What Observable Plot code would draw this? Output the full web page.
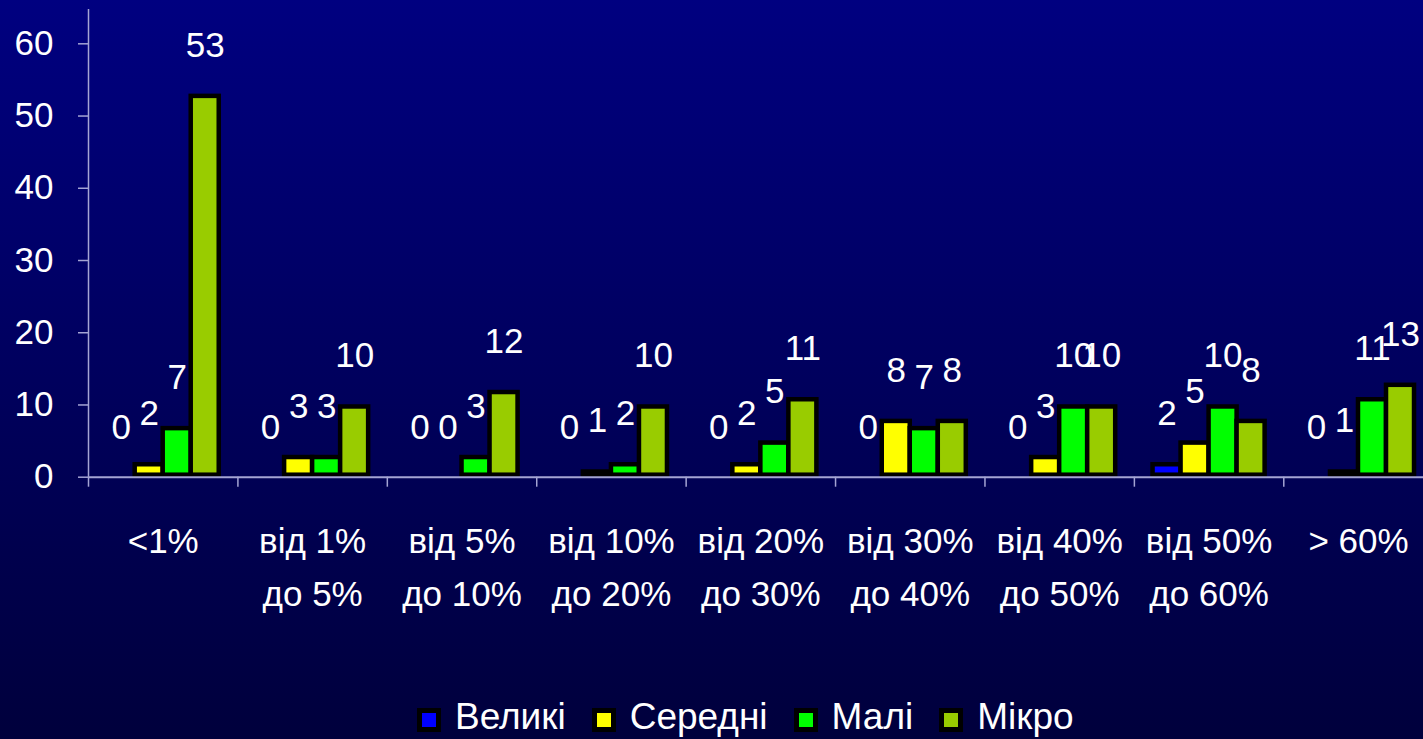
<!DOCTYPE html>
<html><head><meta charset="utf-8">
<script src="https://cdn.jsdelivr.net/npm/d3@7"></script>
<script src="https://cdn.jsdelivr.net/npm/@observablehq/plot@0.6"></script>
<style>
html,body{margin:0;padding:0;width:1423px;height:739px;overflow:hidden;}
body{background:linear-gradient(#000080,#00003c);font-family:"Liberation Sans",Arial,sans-serif;position:relative;}
#legend{position:absolute;left:417px;top:695px;height:44px;display:flex;align-items:center;color:#fff;font-size:37px;line-height:44px;}
.item{display:flex;align-items:center;margin-right:26px;}
.sw{width:14px;height:14px;border:5px solid #000;margin-right:14px;position:relative;top:3px;}
</style></head>
<body><div id="chart"></div><div id="legend"></div>
<script>
const categories = ["<1%", "від 1%\nдо 5%", "від 5%\nдо 10%", "від 10%\nдо 20%", "від 20%\nдо 30%", "від 30%\nдо 40%", "від 40%\nдо 50%", "від 50%\nдо 60%", "> 60%"];
const seriesNames = ["Великі", "Середні", "Малі", "Мікро"];
const velyki = [0, 0, 0, 0, 0, 0, 0, 2, 0];
const seredni = [2, 3, 0, 1, 2, 8, 3, 5, 1];
const mali = [7, 3, 3, 2, 5, 7, 10, 10, 11];
const mikro = [53, 10, 12, 10, 11, 8, 10, 8, 13];
const colors = ["#0000ff", "#ffff00", "#00ff00", "#99cc00"];
const yTicks = [0, 10, 20, 30, 40, 50, 60];

const seriesValues = [velyki, seredni, mali, mikro];
const bw = 0.1875; // bar width as fraction of a category band
const rows = [];
seriesValues.forEach((vals, k) => vals.forEach((v, i) => {
  const x1 = i + 0.5 + (k - 2) * bw;
  rows.push({series: seriesNames[k], value: v, x1, x2: x1 + bw, xm: x1 + bw / 2});
}));
const catRows = categories.map((c, i) => ({label: c, xc: i + 0.5}));

const W = 1423, H = 695;
const axisColor = "#a4a4d4";
const font = "'Liberation Sans', Arial, sans-serif";

const chart = Plot.plot({
  width: W, height: H,
  marginLeft: 88, marginTop: 9, marginRight: 0, marginBottom: H - 476.7,
  style: {background: "transparent", color: "#fff", fontFamily: font, overflow: "visible"},
  x: {domain: [0, categories.length], range: [88, 1432.7]},
  y: {domain: [0, 64.75], range: [476.7, 9]},
  color: {domain: seriesNames, range: colors},
  marks: [
    Plot.rectY(rows.filter(d => d.value > 0), {
      x1: "x1", x2: "x2", y1: 0, y2: "value", fill: "series",
      stroke: "#000", strokeWidth: 4.5, insetTop: 2, insetBottom: 2
    }),
    Plot.ruleY([0], {stroke: axisColor, strokeWidth: 2}),
    Plot.ruleX([0], {stroke: axisColor, strokeWidth: 1.5}),
    Plot.axisY({ticks: yTicks, tickSize: 10, tickPadding: 25, stroke: axisColor, strokeWidth: 1.5, fontSize: 35, fill: "#fff", label: null}),
    Plot.axisX({ticks: d3.range(0, categories.length + 1), tickSize: 10, tickFormat: () => "", stroke: axisColor, strokeWidth: 1.5, label: null}),
    Plot.text(rows, {x: "xm", y: "value", text: d => String(d.value), dy: -49, fill: "#fff", fontSize: 35}),
    Plot.text(catRows, {x: "xc", y: 0, text: "label", lineAnchor: "top", dy: 38.5, lineHeight: 1.514, fill: "#fff", fontSize: 35})
  ]
});
document.getElementById("chart").append(chart);

const legend = document.getElementById("legend");
seriesNames.forEach((s, k) => {
  const item = document.createElement("div");
  item.className = "item";
  const sw = document.createElement("div");
  sw.className = "sw";
  sw.style.background = colors[k];
  const t = document.createElement("span");
  t.textContent = s;
  item.append(sw, t);
  legend.append(item);
});
</script>
</body></html>
